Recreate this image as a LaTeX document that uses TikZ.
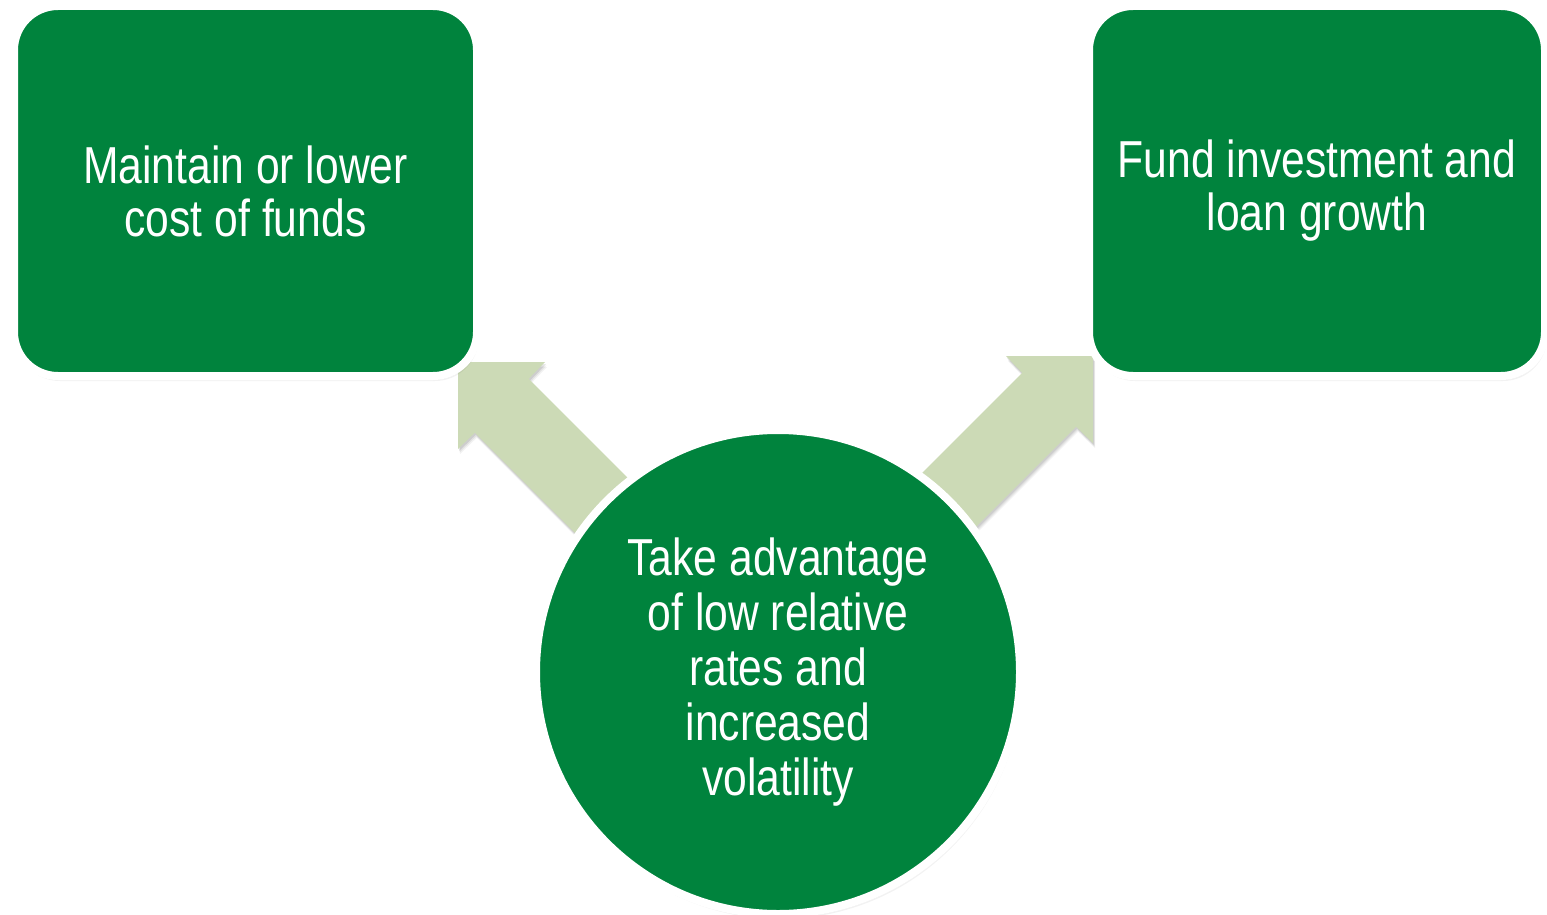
\documentclass[tikz,border=0pt]{standalone}
\usepackage{fontspec}
\setmainfont{Liberation Sans}[FakeStretch=0.82]
\usetikzlibrary{shadows,calc}
\definecolor{leafgreen}{RGB}{0,131,61}
\definecolor{sage}{RGB}{204,218,182}
\tikzset{
  softshadow/.style={
    drop shadow={shadow xshift=2pt, shadow yshift=-5pt, opacity=0.05, fill=black},
    drop shadow={shadow xshift=1.5pt, shadow yshift=-3.5pt, opacity=0.07, fill=black},
    drop shadow={shadow xshift=1pt, shadow yshift=-2pt, opacity=0.09, fill=black}},
  halo/.style={
    drop shadow={shadow xshift=0pt, shadow yshift=0pt, shadow scale=1.012,
      opacity=0.10, fill=black}},
  goalbox/.style={rectangle, rounded corners=44, fill=leafgreen, draw=white,
    line width=8, text=white, align=center, softshadow, halo,
    font=\fontsize{52}{53}\selectfont},
  hubcircle/.style={circle, fill=leafgreen, draw=white, line width=8,
    minimum size=484, inner sep=0, text=white, align=center, softshadow,
    drop shadow={shadow xshift=0pt, shadow yshift=0pt, shadow scale=1.008,
      opacity=0.10, fill=black},
    font=\fontsize{52}{55}\selectfont},
  blockarrow/.style={fill=sage, softshadow}
}
\begin{document}
\begin{tikzpicture}[x=1pt, y=-1pt]
  \useasboundingbox (0,0) rectangle (1547,915);

  % arrow tips
  \coordinate (tipL) at (458,362);
  \coordinate (tipR) at (1093,356);

  % block arrows from the hub to the two goals
  \fill[blockarrow] (tipL) -- ($(tipL)+(87,0)$) -- ($(tipL)+(70.7,16.9)$)
    -- ($(tipL)+(189.5,135.7)$) -- ($(tipL)+(135.7,189.5)$)
    -- ($(tipL)+(16.9,70.7)$) -- ($(tipL)+(0,87)$) -- cycle;
  \fill[blockarrow] (tipR) -- ($(tipR)+(-87,0)$) -- ($(tipR)+(-70.7,16.9)$)
    -- ($(tipR)+(-189.5,135.7)$) -- ($(tipR)+(-135.7,189.5)$)
    -- ($(tipR)+(-16.9,70.7)$) -- ($(tipR)+(0,87)$) -- cycle;

  % goal boxes
  \node[goalbox, minimum width=463, minimum height=370] (cost) at (245.5,191)
    {Maintain or lower\\cost of funds};
  \node[goalbox, minimum width=456, minimum height=370] (growth) at (1317,191)
    {Fund investment and\\loan growth};

  % hub
  \node[hubcircle] (hub) at (778,672)
    {Take advantage\\of low relative\\rates and\\increased\\volatility};
\end{tikzpicture}
\end{document}
